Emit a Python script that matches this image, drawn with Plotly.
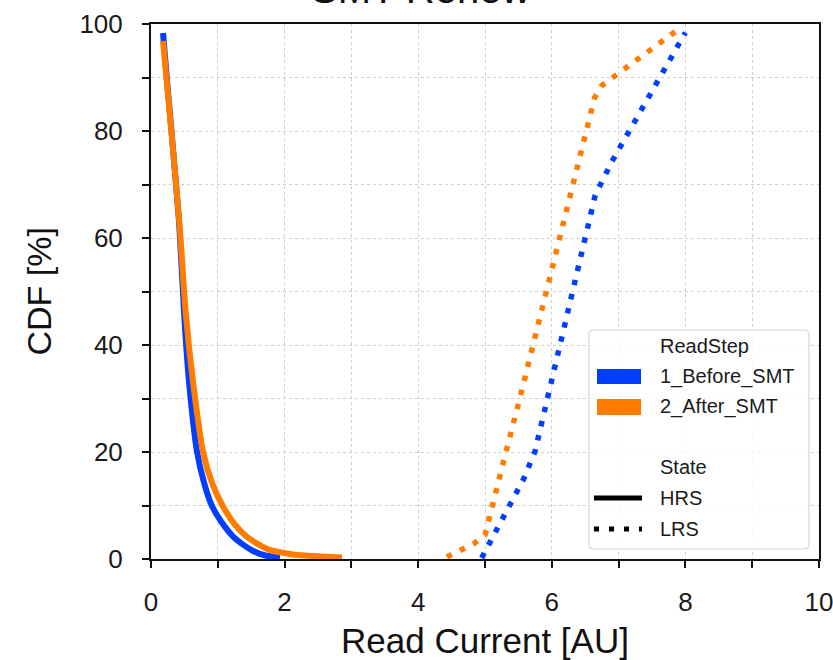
import plotly.graph_objects as go

# ---------------- data ----------------
hrs_before_x = [0.18, 0.25, 0.32, 0.42, 0.50, 0.57, 0.69, 0.80, 0.91, 1.05, 1.23, 1.40, 1.53, 1.70, 1.93]
hrs_before_y = [98.3, 88, 78, 63, 45, 33, 20, 14, 10, 7, 4.2, 2.5, 1.5, 0.7, 0.2]

hrs_after_x = [0.18, 0.26, 0.34, 0.43, 0.52, 0.63, 0.78, 0.92, 1.07, 1.25, 1.43, 1.60, 1.78, 2.10, 2.50, 2.86]
hrs_after_y = [96.8, 86, 75, 62, 46, 33, 20, 14, 10, 6.5, 4.2, 2.8, 1.7, 0.9, 0.5, 0.3]

lrs_before_x = [4.95, 5.16, 5.36, 5.58, 5.75, 5.95, 6.15, 6.36, 6.56, 6.65, 6.90, 7.23, 7.56, 7.90, 8.00]
lrs_before_y = [0.2, 5.1, 10, 15, 20.2, 31, 42, 53, 64, 68, 74.3, 81.6, 88.9, 96.3, 98.4]

lrs_after_x = [4.43, 4.64, 4.84, 5.00, 5.16, 5.33, 5.50, 5.66, 5.82, 5.99, 6.16, 6.31, 6.47, 6.64, 6.75, 6.93, 7.29, 7.65, 7.85]
lrs_after_y = [0.4, 1.7, 2.9, 4.5, 12.7, 20.8, 29, 37, 45.3, 53.5, 61.7, 69.9, 78.1, 86.2, 88.5, 90.2, 93.4, 96.8, 98.6]

x_ticks = list(range(0, 11))
x_tick_text = [str(v) if v % 2 == 0 else "" for v in x_ticks]
y_ticks = list(range(0, 101, 10))
y_tick_text = [str(v) if v % 20 == 0 else "" for v in y_ticks]

steps = ["1_Before_SMT", "2_After_SMT"]
states = ["HRS", "LRS"]
BLUE = "#023eff"
ORANGE = "#ff7c00"

# ---------------- figure ----------------
W, H = 833, 660
L, R, T, B = 151, 14, 24, 101
pw, ph = W - L - R, H - T - B


def px(xp):
    return (xp - L) / pw


def py(yp):
    return (H - B - yp) / ph


fig = go.Figure()
solid_w = 6
dot_w = 5.5
dot_dash = "5.5px,9px"

fig.add_trace(go.Scatter(x=hrs_before_x, y=hrs_before_y, mode="lines", line=dict(color=BLUE, width=solid_w, shape="spline", smoothing=0.6), showlegend=False))
fig.add_trace(go.Scatter(x=lrs_before_x, y=lrs_before_y, mode="lines", line=dict(color=BLUE, width=dot_w, dash=dot_dash), showlegend=False))
fig.add_trace(go.Scatter(x=hrs_after_x, y=hrs_after_y, mode="lines", line=dict(color=ORANGE, width=solid_w, shape="spline", smoothing=0.6), showlegend=False))
fig.add_trace(go.Scatter(x=lrs_after_x, y=lrs_after_y, mode="lines", line=dict(color=ORANGE, width=dot_w, dash=dot_dash), showlegend=False))

font_family = "Liberation Sans, Arial, sans-serif"
axis_common = dict(
    showline=True, mirror=True, linecolor="#111", linewidth=2,
    ticks="outside", ticklen=7, tickwidth=1.5, tickcolor="#111",
    showgrid=True, gridcolor="#cfcfcf", gridwidth=1, griddash="3px,3px",
    zeroline=False, tickfont=dict(size=26, color="#1a1a1a", family=font_family),
    ticklabeloverflow="allow",
)

fig.update_xaxes(range=[0, 10], tickmode="array", tickvals=x_ticks, ticktext=x_tick_text,
                 ticklabelstandoff=12, **axis_common)
fig.update_yaxes(range=[0, 100], tickmode="array", tickvals=y_ticks, ticktext=y_tick_text,
                 ticklabelstandoff=14, **axis_common)

annotations = [
    dict(text="SMT Renew", xref="paper", yref="paper", x=px(420), y=py(-11), xanchor="center", yanchor="middle",
         showarrow=False, font=dict(size=40, color="#111", family=font_family)),
    dict(text="Read Current [AU]", xref="paper", yref="paper", x=0.5, y=py(640), xanchor="center", yanchor="middle",
         showarrow=False, font=dict(size=35, color="#111", family=font_family)),
    dict(text="CDF [%]", xref="paper", yref="paper", x=px(38), y=0.5, xanchor="center", yanchor="middle",
         textangle=-90, showarrow=False, font=dict(size=34, color="#111", family=font_family)),
]

# ---------------- manual legend ----------------
shapes = []
bx0, bx1, by0, by1, rr = 589, 809, 330, 549, 5
path = (f"M {px(bx0+rr)},{py(by0)} L {px(bx1-rr)},{py(by0)} Q {px(bx1)},{py(by0)} {px(bx1)},{py(by0+rr)} "
        f"L {px(bx1)},{py(by1-rr)} Q {px(bx1)},{py(by1)} {px(bx1-rr)},{py(by1)} "
        f"L {px(bx0+rr)},{py(by1)} Q {px(bx0)},{py(by1)} {px(bx0)},{py(by1-rr)} "
        f"L {px(bx0)},{py(by0+rr)} Q {px(bx0)},{py(by0)} {px(bx0+rr)},{py(by0)} Z")
shapes.append(dict(type="path", xref="paper", yref="paper", path=path,
                   fillcolor="rgba(255,255,255,0.8)", line=dict(color="#d6d6d6", width=1.2)))

leg_font = dict(size=20, color="#1a1a1a", family=font_family)
text_x = px(658)
rows = [("ReadStep", 346), (steps[0], 377), (steps[1], 407), ("State", 467), (states[0], 498), (states[1], 529)]
for txt, yy in rows:
    annotations.append(dict(text=txt, xref="paper", yref="paper", x=text_x, y=py(yy), xanchor="left",
                            yanchor="middle", showarrow=False, font=leg_font))

for col, (y0, y1) in zip([BLUE, ORANGE], [(369, 384), (399, 415)]):
    shapes.append(dict(type="rect", xref="paper", yref="paper", x0=px(597), x1=px(641), y0=py(y1), y1=py(y0),
                       fillcolor=col, line=dict(width=0)))

shapes.append(dict(type="line", xref="paper", yref="paper", x0=px(594), x1=px(642), y0=py(498), y1=py(498),
                   line=dict(color="#000", width=5)))
shapes.append(dict(type="line", xref="paper", yref="paper", x0=px(594), x1=px(642), y0=py(529), y1=py(529),
                   line=dict(color="#000", width=5, dash="5px,10px")))

fig.update_layout(
    width=W, height=H,
    margin=dict(l=L, r=R, t=T, b=B, autoexpand=False),
    paper_bgcolor="white", plot_bgcolor="white",
    font=dict(family=font_family),
    annotations=annotations, shapes=shapes,
    showlegend=False,
)

fig.write_html("out.html", config={"displayModeBar": False},
               post_script="document.body.style.margin='0';")
